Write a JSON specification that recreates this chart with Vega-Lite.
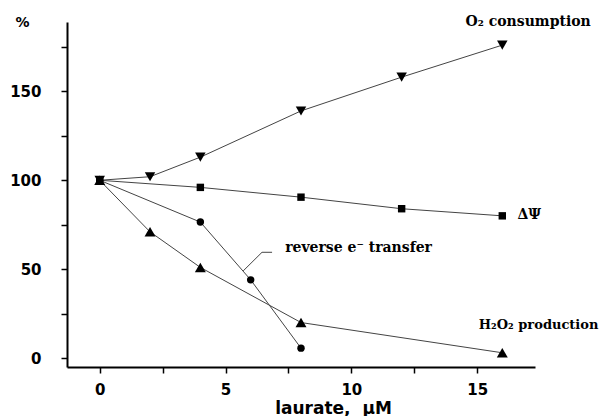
{
  "$schema": "https://vega.github.io/schema/vega-lite/v6.json",
  "autosize": "none",
  "width": 468,
  "height": 345,
  "padding": {"left": 67, "top": 22, "right": 64, "bottom": 49},
  "background": "white",
  "config": {
    "view": {"stroke": null},
    "axis": {"grid": false, "domainColor": "black", "domainWidth": 2, "tickColor": "black", "tickWidth": 1.5, "tickSize": 6,
             "labelFont": "DejaVu Sans", "labelFontWeight": "bold", "labelFontSize": 15, "labelColor": "black",
             "titleFont": "DejaVu Sans", "titleFontWeight": "bold", "titleColor": "black"}
  },
  "datasets": {
    "series": [
      {"series": "O2", "x": 0, "y": 100}, {"series": "O2", "x": 2, "y": 102}, {"series": "O2", "x": 4, "y": 113},
      {"series": "O2", "x": 8, "y": 139}, {"series": "O2", "x": 12, "y": 158}, {"series": "O2", "x": 16, "y": 176},
      {"series": "dPsi", "x": 0, "y": 100}, {"series": "dPsi", "x": 4, "y": 96}, {"series": "dPsi", "x": 8, "y": 90.5},
      {"series": "dPsi", "x": 12, "y": 84}, {"series": "dPsi", "x": 16, "y": 80},
      {"series": "rev", "x": 0, "y": 100}, {"series": "rev", "x": 4, "y": 76.5}, {"series": "rev", "x": 6, "y": 44},
      {"series": "rev", "x": 8, "y": 5.6},
      {"series": "H2O2", "x": 0, "y": 100}, {"series": "H2O2", "x": 2, "y": 71}, {"series": "H2O2", "x": 4, "y": 51},
      {"series": "H2O2", "x": 8, "y": 20}, {"series": "H2O2", "x": 16, "y": 3}
    ],
    "labels": [
      {"label": "O₂ consumption", "x": 14.54, "y": 188.8},
      {"label": "ΔΨ", "x": 16.6, "y": 80.3},
      {"label": "reverse e⁻ transfer", "x": 7.37, "y": 61.8}
    ],
    "labelsRight": [
      {"label": "H₂O₂ production", "x": 19.82, "y": 18.5}
    ],
    "leader": [
      {"x": 5.7, "y": 49, "o": 1},
      {"x": 6.45, "y": 59.5, "o": 2},
      {"x": 6.85, "y": 59.5, "o": 3}
    ]
  },
  "encoding": {
    "x": {"field": "x", "type": "quantitative",
          "scale": {"domain": [-1.3, 17.3], "nice": false, "zero": false},
          "axis": {"values": [0, 2.5, 5, 7.5, 10, 12.5, 15], "labelExpr": "datum.value % 5 == 0 ? datum.label : ''",
                   "labelPadding": 9, "title": "laurate,\u00a0\u00a0μM", "titleFontSize": 17,
                   "titleX": 266, "titleY": 46, "titleAlign": "center", "titleBaseline": "alphabetic"}},
    "y": {"field": "y", "type": "quantitative",
          "scale": {"domain": [-5, 189], "nice": false, "zero": false},
          "axis": {"values": [0, 25, 50, 75, 100, 125, 150, 175], "labelExpr": "datum.value % 50 == 0 ? datum.label : ''",
                   "labelPadding": 20, "title": "%", "titleFontSize": 14, "titleAngle": 0,
                   "titleX": -45, "titleY": 0, "titleAlign": "center", "titleBaseline": "middle"}}
  },
  "layer": [
    {
      "data": {"name": "series"},
      "mark": {"type": "line", "color": "#444", "strokeWidth": 1},
      "encoding": {"detail": {"field": "series"}}
    },
    {
      "data": {"name": "series"},
      "transform": [{"filter": "datum.series == 'O2'"}],
      "mark": {"type": "point", "filled": true, "color": "black", "opacity": 1, "shape": "triangle-down", "size": 110}
    },
    {
      "data": {"name": "series"},
      "transform": [{"filter": "datum.series == 'dPsi'"}],
      "mark": {"type": "point", "filled": true, "color": "black", "opacity": 1, "shape": "square", "size": 55}
    },
    {
      "data": {"name": "series"},
      "transform": [{"filter": "datum.series == 'rev'"}],
      "mark": {"type": "point", "filled": true, "color": "black", "opacity": 1, "shape": "circle", "size": 55}
    },
    {
      "data": {"name": "series"},
      "transform": [{"filter": "datum.series == 'H2O2'"}],
      "mark": {"type": "point", "filled": true, "color": "black", "opacity": 1, "shape": "triangle-up", "size": 120}
    },
    {
      "data": {"name": "leader"},
      "mark": {"type": "line", "color": "#444", "strokeWidth": 1},
      "encoding": {"order": {"field": "o"}}
    },
    {
      "data": {"name": "labels"},
      "mark": {"type": "text", "align": "left", "baseline": "middle", "font": "DejaVu Serif", "fontWeight": "bold", "fontSize": 14, "color": "black", "clip": false},
      "encoding": {"text": {"field": "label"}}
    },
    {
      "data": {"name": "labelsRight"},
      "mark": {"type": "text", "align": "right", "baseline": "middle", "font": "DejaVu Serif", "fontWeight": "bold", "fontSize": 13, "color": "black", "clip": false},
      "encoding": {"text": {"field": "label"}}
    }
  ]
}
